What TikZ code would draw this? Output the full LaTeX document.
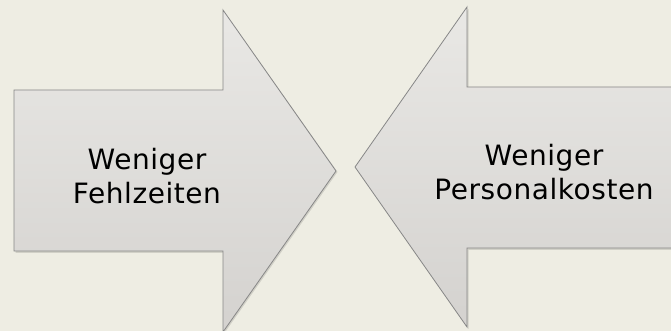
\documentclass[tikz,border=0pt]{standalone}
\usepackage{fontspec}
\newfontfamily\lblfont[LetterSpace=2]{DejaVu Sans}
\definecolor{slidebg}{RGB}{238,237,227}
\definecolor{arrowtop}{RGB}{233,232,229}
\definecolor{arrowbot}{RGB}{212,210,207}
\definecolor{arrowedge}{RGB}{135,135,135}
\tikzset{
  bigarrow/.style={draw=arrowedge, line width=0.6pt, line join=miter, top color=arrowtop, bottom color=arrowbot},
  arrowshadow/.style={fill=black, fill opacity=0.12, draw=none},
  arrowlabel/.style={font=\lblfont\fontsize{21}{25.5}\selectfont, align=center, text=black, inner sep=0pt}
}
\begin{document}
\begin{tikzpicture}[x=0.75pt,y=0.75pt,yscale=-1,xscale=1]
        \fill [slidebg] (0,0) rectangle (671,331) ;
        \useasboundingbox (0,0) rectangle (671,331) ;
        % left arrow
        \fill [arrowshadow] (15.5,92) -- (224.5,92) -- (224.5,12) -- (337.5,172) -- (224.5,333) -- (224.5,253) -- (15.5,253) -- cycle ;
        \draw [bigarrow] (14,90) -- (223,90) -- (223,10) -- (336,171) -- (223,332) -- (223,251) -- (14,251) -- cycle ;
        % right arrow
        \fill [arrowshadow] (673,89) -- (468.5,89) -- (468.5,9) -- (356.5,168) -- (468.5,329) -- (468.5,250) -- (673,250) -- cycle ;
        \draw [bigarrow] (672,87) -- (467,87) -- (467,7) -- (355,167) -- (467,327) -- (467,248) -- (672,248) -- cycle ;
        \node [arrowlabel] (fehlzeiten) at (147,176) {Weniger\\Fehlzeiten};
        \node [arrowlabel] (personal) at (544,172) {Weniger\\Personalkosten};
\end{tikzpicture}
\end{document}
